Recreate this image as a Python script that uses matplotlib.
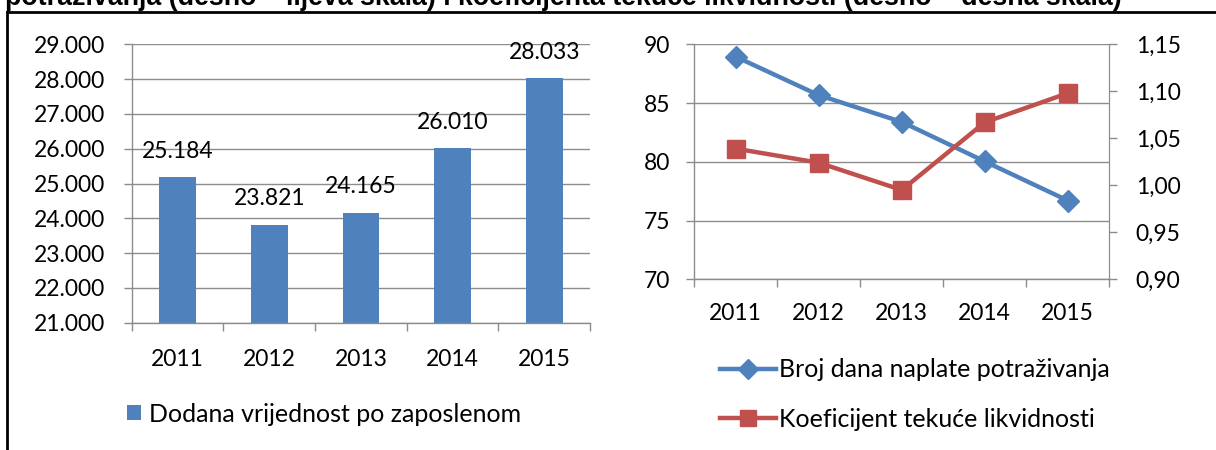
import matplotlib
matplotlib.use("Agg")
import matplotlib.pyplot as plt
from matplotlib.ticker import FixedLocator, FuncFormatter, NullFormatter
from matplotlib.lines import Line2D

plt.rcParams['font.family'] = ['Lato', 'DejaVu Sans']

# ---- data ----
years = ['2011', '2012', '2013', '2014', '2015']
dodana_vrijednost = [25184, 23821, 24165, 26010, 28033]
broj_dana = [88.94, 85.67, 83.39, 80.03, 76.7]
koef_likvidnosti = [1.039, 1.024, 0.995, 1.067, 1.098]

bar_label = 'Dodana vrijednost po zaposlenom'
line1_label = 'Broj dana naplate potraživanja'
line2_label = 'Koeficijent tekuće likvidnosti'
title_text = 'potraživanja (desno – lijeva skala) i koeficijenta tekuće likvidnosti (desno – desna skala)'

BLUE = '#4F81BD'
RED = '#C0504D'
GRID = '#8C8C8C'
FS = 16.5
LFS = 18

W, H = 1216, 450
fig = plt.figure(figsize=(W / 100, H / 100), dpi=100)


def px_axes(l, t, r, b):
    return fig.add_axes([l / W, 1 - b / H, (r - l) / W, (b - t) / H])


def thousands(v, pos=None):
    return f'{int(round(v)):,}'.replace(',', '.')


def style_axes(ax):
    for s in ['top', 'right']:
        ax.spines[s].set_visible(False)
    for s in ['left', 'bottom']:
        ax.spines[s].set_color(GRID)
        ax.spines[s].set_linewidth(1.0)
    ax.set_axisbelow(True)
    ax.grid(axis='y', color=GRID, linewidth=1.0)
    ax.tick_params(axis='both', which='major', direction='out', color=GRID,
                   width=1.0, length=6, labelsize=FS)
    n = len(years)
    ax.set_xlim(-0.5, n - 0.5)
    ax.xaxis.set_major_locator(FixedLocator([i - 0.5 for i in range(n + 1)]))
    ax.xaxis.set_major_formatter(NullFormatter())
    ax.xaxis.set_minor_locator(FixedLocator(list(range(n))))
    ax.set_xticklabels(years, minor=True)
    ax.tick_params(axis='x', which='minor', length=0, labelsize=FS)


# ---- left chart: bars ----
ax1 = px_axes(131.7, 44.3, 590, 322.7)
style_axes(ax1)
x = list(range(len(years)))
bars = ax1.bar(x, dodana_vrijednost, width=0.4, color=BLUE, label=bar_label, zorder=2)
ax1.set_ylim(21000, 29000)
ax1.yaxis.set_major_locator(FixedLocator(list(range(21000, 29001, 1000))))
ax1.yaxis.set_major_formatter(FuncFormatter(thousands))
ax1.tick_params(axis='y', pad=13)
ax1.tick_params(axis='x', which='minor', pad=19)
for xi, v in zip(x, dodana_vrijednost):
    ax1.annotate(thousands(v), (xi, v), xytext=(0, 18.5), textcoords='offset points',
                 ha='center', va='center', fontsize=FS, annotation_clip=False)

leg1 = ax1.legend(loc='center left', bbox_to_anchor=(127.3 / W, 1 - 414 / H),
                  bbox_transform=fig.transFigure, frameon=False, fontsize=LFS,
                  borderpad=0, borderaxespad=0, handlelength=0.56, handleheight=0.56,
                  handletextpad=0.3)

# ---- right chart: two lines, two scales ----
ax2 = px_axes(694.3, 44.3, 1109.3, 279.3)
style_axes(ax2)
ax2.spines['right'].set_visible(True)
ax2.spines['right'].set_color(GRID)
l1, = ax2.plot(x, broj_dana, color=BLUE, lw=3.2, marker='D', markersize=11.5,
               label=line1_label, zorder=3)
ax2.set_ylim(70, 90)
ax2.yaxis.set_major_locator(FixedLocator([70, 75, 80, 85, 90]))
ax2.tick_params(axis='y', pad=11.5)
ax2.tick_params(axis='x', which='minor', pad=17)

ax3 = ax2.twinx()
for s in ['top', 'left', 'bottom']:
    ax3.spines[s].set_visible(False)
ax3.spines['right'].set_color(GRID)
l2, = ax3.plot(x, koef_likvidnosti, color=RED, lw=3.2, marker='s', markersize=13,
               label=line2_label, zorder=3)
ax3.set_ylim(0.90, 1.15)
ax3.yaxis.set_major_locator(FixedLocator([0.90, 0.95, 1.00, 1.05, 1.10, 1.15]))
ax3.yaxis.set_major_formatter(FuncFormatter(lambda v, p: f'{v:.2f}'.replace('.', ',')))
ax3.tick_params(axis='y', direction='out', color=GRID, width=1.0, length=6,
                labelsize=FS, pad=13)

leg2 = ax3.legend(handles=[l1, l2], loc='center left',
                  bbox_to_anchor=(720 / W, 1 - 394.5 / H), bbox_transform=fig.transFigure,
                  frameon=False, fontsize=LFS, borderpad=0, borderaxespad=0,
                  handlelength=2.24, handletextpad=0.13, labelspacing=1.06,
                  markerscale=0.85)

# ---- frame and cut-off heading ----
fig.add_artist(Line2D([7 / W, 1], [1 - 12 / H, 1 - 12 / H], color='black', lw=2,
                      transform=fig.transFigure))
fig.add_artist(Line2D([7 / W, 7 / W], [0, 1 - 12 / H], color='black', lw=2,
                      transform=fig.transFigure))
fig.text(5 / W, 1 - 5 / H, title_text, ha='left', va='baseline', fontsize=19.3,
         fontweight='bold', family=['Liberation Sans', 'DejaVu Sans'])

fig.savefig('out.png', dpi=100)
